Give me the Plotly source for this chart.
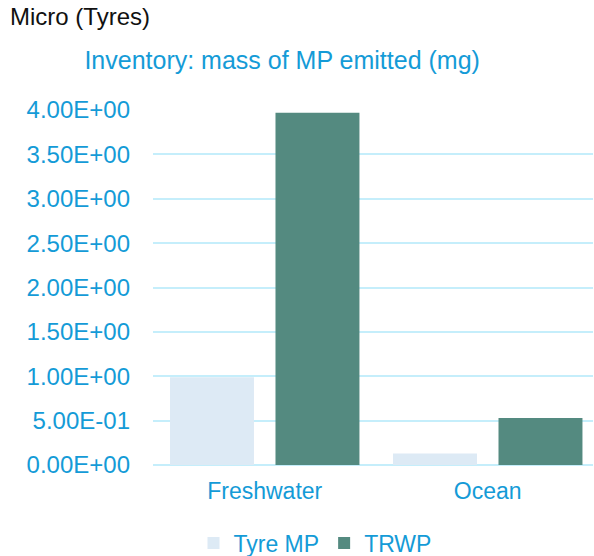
import plotly.graph_objects as go

categories = ["Freshwater", "Ocean"]
tyre_mp = [0.99, 0.13]
trwp = [3.97, 0.53]
tick_vals = [0, 0.5, 1.0, 1.5, 2.0, 2.5, 3.0, 3.5, 4.0]
tick_text = ["0.00E+00", "5.00E-01", "1.00E+00", "1.50E+00", "2.00E+00",
             "2.50E+00", "3.00E+00", "3.50E+00", "4.00E+00"]

BLUE = "#149BD7"
FONT = "Liberation Sans, Arial, sans-serif"

fig = go.Figure()
fig.add_trace(go.Bar(name="Tyre MP", x=categories, y=tyre_mp,
                     marker=dict(color="#DDEAF5", line=dict(width=0))))
fig.add_trace(go.Bar(name="TRWP", x=categories, y=trwp,
                     marker=dict(color="#548A80", line=dict(width=0))))

fig.update_layout(
    width=594, height=556, autosize=False,
    margin=dict(l=153, r=1, t=110, b=91, autoexpand=False),
    paper_bgcolor="white", plot_bgcolor="white",
    barmode="group", bargap=0.054, bargroupgap=0.204,
    font=dict(family=FONT, color=BLUE, size=23),
    title=dict(text="Inventory: mass of MP emitted (mg)",
               font=dict(family=FONT, size=25, color=BLUE),
               xref="container", x=0.475, xanchor="center",
               yref="container", y=1 - 60 / 556, yanchor="middle"),
    xaxis=dict(range=[-0.501, 1.472],
               showgrid=False, showline=False, zeroline=False,
               tickfont=dict(size=23, color=BLUE), ticks="",
               ticklabelstandoff=10, automargin=False),
    yaxis=dict(range=[0, 4.0], tickvals=tick_vals, ticktext=tick_text,
               showgrid=True, gridcolor="#C5EEFB", gridwidth=1.5,
               zeroline=True, zerolinecolor="#C5EEFB", zerolinewidth=2,
               showline=False, ticks="", automargin=False,
               tickfont=dict(size=24, color=BLUE), ticklabelstandoff=22),
    legend=dict(orientation="h", xref="container", x=315 / 594,
                xanchor="center", yref="container", y=13 / 556,
                yanchor="middle",
                font=dict(size=23, color=BLUE), itemwidth=30,
                traceorder="normal"),
    annotations=[dict(text="Micro (Tyres)", xref="paper", yref="paper",
                      x=(8 - 153) / 440, xanchor="left",
                      y=(465 - 17) / 355, yanchor="middle",
                      showarrow=False,
                      font=dict(family=FONT, size=24, color="#111111"))],
)

fig.write_html("out.html",
               config=dict(displayModeBar=False, responsive=False),
               post_script="document.documentElement.style.overflow='hidden';"
                           "document.body.style.margin='0';"
                           "document.body.style.overflow='hidden';")
